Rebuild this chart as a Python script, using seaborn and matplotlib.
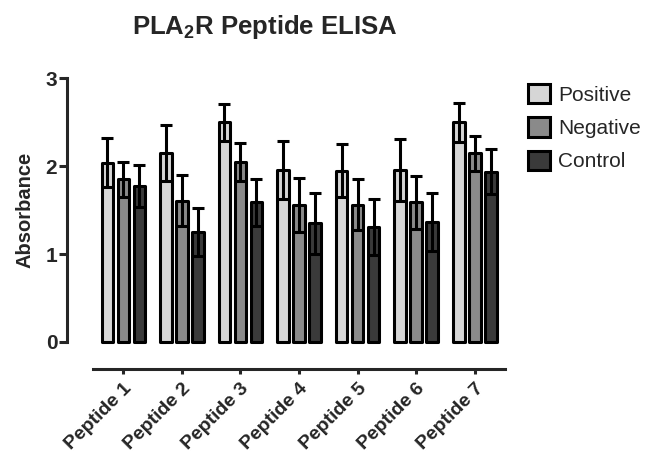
import seaborn as sns
import numpy as np
import pandas as pd
import matplotlib.pyplot as plt
import matplotlib.patches as mpatches

# datos
peptides = ['Peptide 1', 'Peptide 2', 'Peptide 3', 'Peptide 4',
            'Peptide 5', 'Peptide 6', 'Peptide 7']
groups = ['Positive', 'Negative', 'Control']
positive = [2.04, 2.15, 2.50, 1.96, 1.95, 1.96, 2.50]
negative = [1.85, 1.61, 2.05, 1.56, 1.56, 1.59, 2.15]
control = [1.78, 1.25, 1.59, 1.35, 1.31, 1.36, 1.94]
positive_err = [0.28, 0.32, 0.21, 0.33, 0.30, 0.35, 0.22]
negative_err = [0.20, 0.29, 0.22, 0.31, 0.29, 0.30, 0.20]
control_err = [0.24, 0.27, 0.27, 0.35, 0.32, 0.33, 0.26]
colors = ['#d6d6d6', '#8a8a8a', '#3a3a3a']

sns.set_theme(style='ticks')
plt.rcParams['font.family'] = ['Liberation Sans', 'DejaVu Sans']
plt.rcParams['font.weight'] = 'bold'
plt.rcParams['mathtext.fontset'] = 'custom'
plt.rcParams['mathtext.rm'] = 'Liberation Sans:bold'
plt.rcParams['mathtext.bf'] = 'Liberation Sans:bold'

df = pd.DataFrame({
    'Peptide': peptides * 3,
    'Group': [g for g in groups for _ in peptides],
    'Absorbance': positive + negative + control,
})
errs = [positive_err, negative_err, control_err]

fig = plt.figure(figsize=(6.45, 4.59), dpi=100)
ax = fig.add_axes([0.104, 0.196, 0.682, 0.633])

sns.barplot(data=df, x='Peptide', y='Absorbance', hue='Group',
            order=peptides, hue_order=groups, palette=colors, saturation=1,
            errorbar=None, width=0.82, gap=0.28, edgecolor='black',
            linewidth=2.2, legend=False, ax=ax)

for p in ax.patches:
    p.set_joinstyle('round')

# barras de error (media +/- error) encima de cada barra
for cont, err in zip(ax.containers, errs):
    bars = sorted(cont, key=lambda b: b.get_x())
    xs = [b.get_x() + b.get_width() / 2 for b in bars]
    ys = [b.get_height() for b in bars]
    ax.errorbar(xs, ys, yerr=err, fmt='none', ecolor='black',
                elinewidth=2.2, capsize=4.5, capthick=2.2, zorder=3)

ax.set_xlim(-0.96, 6.55)
ax.set_ylim(-0.31, 3.0)
ax.spines['top'].set_visible(False)
ax.spines['right'].set_visible(False)
ax.spines['left'].set_bounds(0, 3)
ax.spines['bottom'].set_bounds(-0.52, 6.52)
for s in ['left', 'bottom']:
    ax.spines[s].set_linewidth(2.2)
ax.tick_params(axis='y', length=6, width=2.2, pad=1)
ax.tick_params(axis='x', length=3.6, width=2.2, pad=4)

ax.set_yticks([0, 1, 2, 3])
ax.set_yticklabels(['0', '1', '2', '3'], fontsize=15, fontweight='bold')
ax.set_xticks(range(len(peptides)))
ax.set_xticklabels(peptides, fontsize=14, fontweight='bold', rotation=45,
                   rotation_mode='anchor', ha='right', va='top')

ax.set_xlabel('')
ax.set_ylabel('Absorbance', fontsize=14.5, fontweight='bold', labelpad=8,
              y=0.547)

fig.text(0.41, 0.941, r'PLA$_\mathbf{2}$R Peptide ELISA', ha='center',
         va='center', fontsize=18.5, fontweight='bold')

handles = [mpatches.Patch(facecolor=c, edgecolor='black', linewidth=2.2)
           for c in colors]
ax.legend(handles, groups, loc='upper left', bbox_to_anchor=(0.819, 0.817),
          bbox_transform=fig.transFigure, frameon=False,
          handlelength=1.05, handleheight=1.05, handletextpad=0.4,
          labelspacing=0.6, borderpad=0, borderaxespad=0,
          prop={'weight': 'normal', 'size': 15})

fig.savefig('out.png', dpi=100)
